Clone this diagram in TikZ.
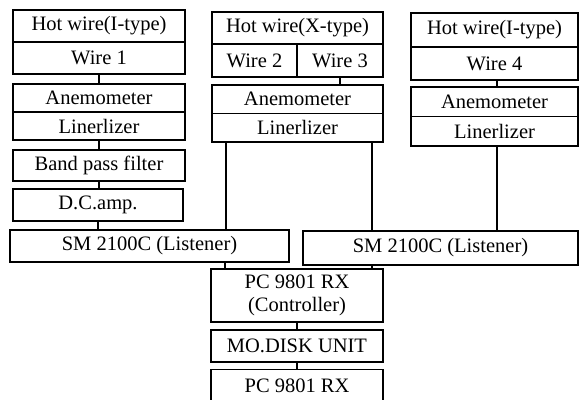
\documentclass[tikz,border=0pt]{standalone}
\usepackage{fontspec}
\setmainfont{Liberation Serif}
\usepackage{tikz}
\usetikzlibrary{positioning,calc}

\begin{document}
\begin{tikzpicture}[x=1pt,y=-1pt, every node/.style={font=\fontsize{20.5}{23}\selectfont},
    box/.style={draw,line width=1.2pt,inner sep=0pt,align=center},
    link/.style={line width=1.3pt}]
    \useasboundingbox (0,0) rectangle (583,399);
    % first probe
    \node[box,minimum width=172pt,minimum height=32pt] (hwa) at (99,26) {Hot wire(I-type)};
    \node[box,minimum width=172pt,minimum height=32pt] (wa) at (99,58) {Wire 1};
    \node[box,minimum width=172pt,minimum height=28pt] (ana) at (99,98) {Anemometer};
    \node[box,minimum width=172pt,minimum height=28pt] (lia) at (99,126) {Linerlizer};
    \node[box,minimum width=172pt,minimum height=31pt] (bpf) at (99,165.5) {Band pass filter};
    \node[box,minimum width=170pt,minimum height=32pt] (dca) at (98,205) {D.C.amp.};
    \node[box,minimum width=279pt,minimum height=32pt] (sma) at (149.5,246) {SM 2100C (Listener)};
    % X-type probe
    \node[box,minimum width=171pt,minimum height=32pt] (hwb) at (297.5,28) {Hot wire(X-type)};
    \node[box,minimum width=85pt,minimum height=33pt] (wb) at (254.5,60.5) {Wire 2};
    \node[box,minimum width=86pt,minimum height=33pt] (wc) at (340,60.5) {Wire 3};
    \node[box,minimum width=171pt,minimum height=28.5pt] (anb) at (297.5,99.25) {Anemometer};
    \node[box,minimum width=171pt,minimum height=28.5pt] (lib) at (297.5,127.75) {Linerlizer};
    % second I-type probe
    \node[box,minimum width=167pt,minimum height=34pt] (hwc) at (494.5,30) {Hot wire(I-type)};
    \node[box,minimum width=167pt,minimum height=33pt] (wd) at (494.5,63.5) {Wire 4};
    \node[box,minimum width=167pt,minimum height=29.5pt] (anc) at (494.5,101.75) {Anemometer};
    \node[box,minimum width=167pt,minimum height=29.5pt] (lic) at (494.5,131.25) {Linerlizer};
    \node[box,minimum width=275pt,minimum height=34pt] (smb) at (440.5,248) {SM 2100C (Listener)};
    % controller chain
    \node[box,minimum width=172pt,minimum height=53pt] (pca) at (297,295.5) {PC 9801 RX\\(Controller)};
    \node[box,minimum width=172pt,minimum height=32pt] (mo) at (297,346) {MO.DISK UNIT};
    \node[box,minimum width=172pt,minimum height=33pt,anchor=north] (pcb) at (297,369) {PC 9801 RX};
    % connections
    \draw[link] (wa.south) -- (wa.south |- ana.north);
    \draw[link] (lia.south) -- (lia.south |- bpf.north);
    \draw[link] (bpf.south) -- (bpf.south |- dca.north);
    \draw[link] (dca.south) -- (dca.south |- sma.north);
    \draw[link] (wc.south) -- (wc.south |- anb.north);
    \draw[link] ([xshift=14.5pt]lib.south west) -- ([xshift=14.5pt]lib.south west |- sma.north);
    \draw[link] ([xshift=-11.5pt]lib.south east) -- ([xshift=-11.5pt]lib.south east |- smb.north);
    \draw[link] ([xshift=2.5pt]wd.south) -- ([xshift=2.5pt]wd.south |- anc.north);
    \draw[link] ([xshift=2.5pt]lic.south) -- ([xshift=2.5pt]lic.south |- smb.north);
    \draw[link] ([xshift=14.5pt]pca.north west |- sma.south) -- ([xshift=14.5pt]pca.north west);
    \draw[link] ([xshift=-11.5pt]pca.north east |- smb.south) -- ([xshift=-11.5pt]pca.north east);
    \draw[link] (pca.south) -- (mo.north);
    \draw[link] (mo.south) -- (pcb.north);
\end{tikzpicture}
\end{document}
